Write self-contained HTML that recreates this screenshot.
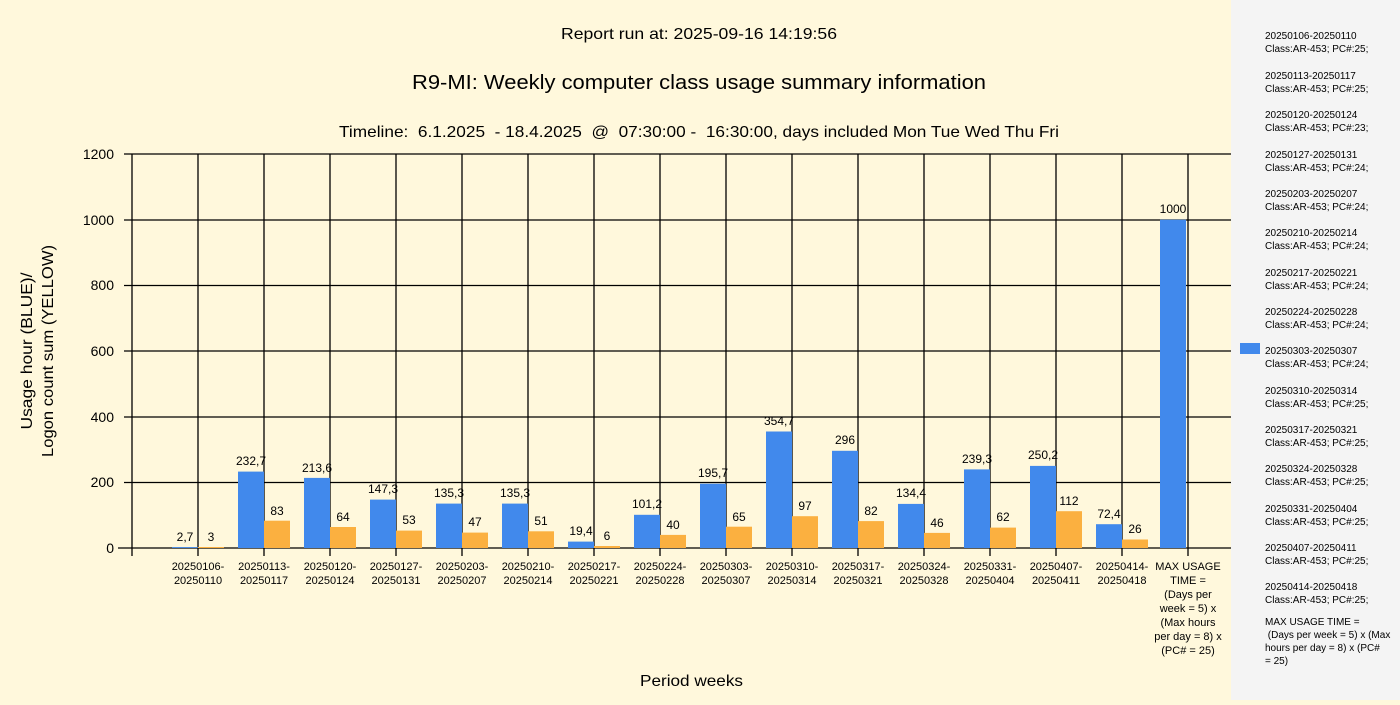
<!DOCTYPE html>
<html><head><meta charset="utf-8"><style>
body{margin:0;width:1400px;height:700px;overflow:hidden;background:#fff8dc;font-family:"Liberation Sans",sans-serif}
</style></head><body>
<svg width="1400" height="700" xmlns="http://www.w3.org/2000/svg" font-family="Liberation Sans, sans-serif">
<rect width="1400" height="700" fill="#fff8dc"/>
<rect x="1231" y="0" width="169" height="700" fill="#f4f4f4"/>
<text x="561" y="39" font-size="16" textLength="276" lengthAdjust="spacingAndGlyphs">Report run at: 2025-09-16 14:19:56</text>
<text x="412" y="89" font-size="20" textLength="574" lengthAdjust="spacingAndGlyphs">R9-MI: Weekly computer class usage summary information</text>
<text x="339" y="137" font-size="16" xml:space="preserve" textLength="720" lengthAdjust="spacingAndGlyphs">Timeline:  6.1.2025  - 18.4.2025  @  07:30:00 -  16:30:00, days included Mon Tue Wed Thu Fri</text>
<g stroke="#000" stroke-width="1.3">
<line x1="124" y1="154" x2="1231" y2="154"/>
<line x1="124" y1="220" x2="1231" y2="220"/>
<line x1="124" y1="285.5" x2="1231" y2="285.5"/>
<line x1="124" y1="351" x2="1231" y2="351"/>
<line x1="124" y1="417" x2="1231" y2="417"/>
<line x1="124" y1="482.5" x2="1231" y2="482.5"/>
<line x1="118" y1="548" x2="1231" y2="548"/>
<line x1="132" y1="154" x2="132" y2="556"/>
<line x1="198" y1="154" x2="198" y2="556"/><line x1="264" y1="154" x2="264" y2="556"/><line x1="330" y1="154" x2="330" y2="556"/><line x1="396" y1="154" x2="396" y2="556"/><line x1="462" y1="154" x2="462" y2="556"/><line x1="528" y1="154" x2="528" y2="556"/><line x1="594" y1="154" x2="594" y2="556"/><line x1="660" y1="154" x2="660" y2="556"/><line x1="726" y1="154" x2="726" y2="556"/><line x1="792" y1="154" x2="792" y2="556"/><line x1="858" y1="154" x2="858" y2="556"/><line x1="924" y1="154" x2="924" y2="556"/><line x1="990" y1="154" x2="990" y2="556"/><line x1="1056" y1="154" x2="1056" y2="556"/><line x1="1122" y1="154" x2="1122" y2="556"/><line x1="1188" y1="154" x2="1188" y2="556"/>
</g>
<g font-size="14" text-anchor="end">
<text x="114" y="159">1200</text><text x="114" y="225">1000</text><text x="114" y="290">800</text><text x="114" y="356">600</text><text x="114" y="422">400</text><text x="114" y="487">200</text><text x="114" y="553">0</text>
</g>
<g fill="#4189ec">
<rect x="172" y="547.1" width="26" height="0.9"/>
<rect x="238" y="471.6" width="26" height="76.4"/>
<rect x="304" y="477.9" width="26" height="70.1"/>
<rect x="370" y="499.6" width="26" height="48.4"/>
<rect x="436" y="503.6" width="26" height="44.4"/>
<rect x="502" y="503.6" width="26" height="44.4"/>
<rect x="568" y="541.6" width="26" height="6.4"/>
<rect x="634" y="514.8" width="26" height="33.2"/>
<rect x="700" y="483.7" width="26" height="64.3"/>
<rect x="766" y="431.5" width="26" height="116.5"/>
<rect x="832" y="450.8" width="26" height="97.2"/>
<rect x="898" y="503.9" width="26" height="44.1"/>
<rect x="964" y="469.4" width="26" height="78.6"/>
<rect x="1030" y="465.9" width="26" height="82.1"/>
<rect x="1096" y="524.2" width="26" height="23.8"/>
<rect x="1160" y="219.7" width="26" height="328.3"/>
</g>
<g fill="#fbb040">
<rect x="198" y="547" width="26" height="1"/>
<rect x="264" y="520.7" width="26" height="27.3"/>
<rect x="330" y="527" width="26" height="21"/>
<rect x="396" y="530.6" width="26" height="17.4"/>
<rect x="462" y="532.6" width="26" height="15.4"/>
<rect x="528" y="531.3" width="26" height="16.7"/>
<rect x="594" y="546" width="26" height="2"/>
<rect x="660" y="534.9" width="26" height="13.1"/>
<rect x="726" y="526.7" width="26" height="21.3"/>
<rect x="792" y="516.2" width="26" height="31.8"/>
<rect x="858" y="521.1" width="26" height="26.9"/>
<rect x="924" y="532.9" width="26" height="15.1"/>
<rect x="990" y="527.6" width="26" height="20.4"/>
<rect x="1056" y="511.2" width="26" height="36.8"/>
<rect x="1122" y="539.5" width="26" height="8.5"/>
</g>
<g font-size="12" text-anchor="middle">
<text x="185" y="541">2,7</text><text x="211" y="541">3</text>
<text x="251" y="465">232,7</text><text x="277" y="515">83</text>
<text x="317" y="472">213,6</text><text x="343" y="521">64</text>
<text x="383" y="493">147,3</text><text x="409" y="524">53</text>
<text x="449" y="497">135,3</text><text x="475" y="526">47</text>
<text x="515" y="497">135,3</text><text x="541" y="525">51</text>
<text x="581" y="535">19,4</text><text x="607" y="540">6</text>
<text x="647" y="508">101,2</text><text x="673" y="529">40</text>
<text x="713" y="477">195,7</text><text x="739" y="521">65</text>
<text x="779" y="425">354,7</text><text x="805" y="510">97</text>
<text x="845" y="444">296</text><text x="871" y="515">82</text>
<text x="911" y="497">134,4</text><text x="937" y="527">46</text>
<text x="977" y="463">239,3</text><text x="1003" y="521">62</text>
<text x="1043" y="459">250,2</text><text x="1069" y="505">112</text>
<text x="1109" y="518">72,4</text><text x="1135" y="533">26</text>
<text x="1173" y="213">1000</text>
</g>
<g font-size="11" text-anchor="middle">
<text x="198" y="570">20250106-</text><text x="198" y="584">20250110</text>
<text x="264" y="570">20250113-</text><text x="264" y="584">20250117</text>
<text x="330" y="570">20250120-</text><text x="330" y="584">20250124</text>
<text x="396" y="570">20250127-</text><text x="396" y="584">20250131</text>
<text x="462" y="570">20250203-</text><text x="462" y="584">20250207</text>
<text x="528" y="570">20250210-</text><text x="528" y="584">20250214</text>
<text x="594" y="570">20250217-</text><text x="594" y="584">20250221</text>
<text x="660" y="570">20250224-</text><text x="660" y="584">20250228</text>
<text x="726" y="570">20250303-</text><text x="726" y="584">20250307</text>
<text x="792" y="570">20250310-</text><text x="792" y="584">20250314</text>
<text x="858" y="570">20250317-</text><text x="858" y="584">20250321</text>
<text x="924" y="570">20250324-</text><text x="924" y="584">20250328</text>
<text x="990" y="570">20250331-</text><text x="990" y="584">20250404</text>
<text x="1056" y="570">20250407-</text><text x="1056" y="584">20250411</text>
<text x="1122" y="570">20250414-</text><text x="1122" y="584">20250418</text>
<text x="1188" y="570">MAX USAGE</text><text x="1188" y="584">TIME =</text><text x="1188" y="598">(Days per</text><text x="1188" y="612">week = 5) x</text><text x="1188" y="626">(Max hours</text><text x="1188" y="640">per day = 8) x</text><text x="1188" y="654">(PC# = 25)</text>
</g>
<text x="640" y="686" font-size="16" textLength="103" lengthAdjust="spacingAndGlyphs">Period weeks</text>
<g font-size="16" text-anchor="middle">
<text transform="translate(32,351) rotate(-90)" textLength="157" lengthAdjust="spacingAndGlyphs">Usage hour (BLUE)/</text>
<text transform="translate(53,351) rotate(-90)" textLength="212" lengthAdjust="spacingAndGlyphs">Logon count sum (YELLOW)</text>
</g>
<rect x="1240" y="343" width="20" height="11" fill="#4189ec"/>
<g font-size="10">
<text x="1265" y="39">20250106-20250110</text><text x="1265" y="52">Class:AR-453; PC#:25;</text>
<text x="1265" y="79">20250113-20250117</text><text x="1265" y="92">Class:AR-453; PC#:25;</text>
<text x="1265" y="118">20250120-20250124</text><text x="1265" y="131">Class:AR-453; PC#:23;</text>
<text x="1265" y="158">20250127-20250131</text><text x="1265" y="171">Class:AR-453; PC#:24;</text>
<text x="1265" y="197">20250203-20250207</text><text x="1265" y="210">Class:AR-453; PC#:24;</text>
<text x="1265" y="236">20250210-20250214</text><text x="1265" y="249">Class:AR-453; PC#:24;</text>
<text x="1265" y="276">20250217-20250221</text><text x="1265" y="289">Class:AR-453; PC#:24;</text>
<text x="1265" y="315">20250224-20250228</text><text x="1265" y="328">Class:AR-453; PC#:24;</text>
<text x="1265" y="354">20250303-20250307</text><text x="1265" y="367">Class:AR-453; PC#:24;</text>
<text x="1265" y="394">20250310-20250314</text><text x="1265" y="407">Class:AR-453; PC#:25;</text>
<text x="1265" y="433">20250317-20250321</text><text x="1265" y="446">Class:AR-453; PC#:25;</text>
<text x="1265" y="472">20250324-20250328</text><text x="1265" y="485">Class:AR-453; PC#:25;</text>
<text x="1265" y="512">20250331-20250404</text><text x="1265" y="525">Class:AR-453; PC#:25;</text>
<text x="1265" y="551">20250407-20250411</text><text x="1265" y="564">Class:AR-453; PC#:25;</text>
<text x="1265" y="590">20250414-20250418</text><text x="1265" y="603">Class:AR-453; PC#:25;</text>
<text x="1265" y="625">MAX USAGE TIME =</text><text x="1265" y="638" xml:space="preserve"> (Days per week = 5) x (Max</text><text x="1265" y="651">hours per day = 8) x (PC#</text><text x="1265" y="664">= 25)</text>
</g>
</svg>
</body></html>
